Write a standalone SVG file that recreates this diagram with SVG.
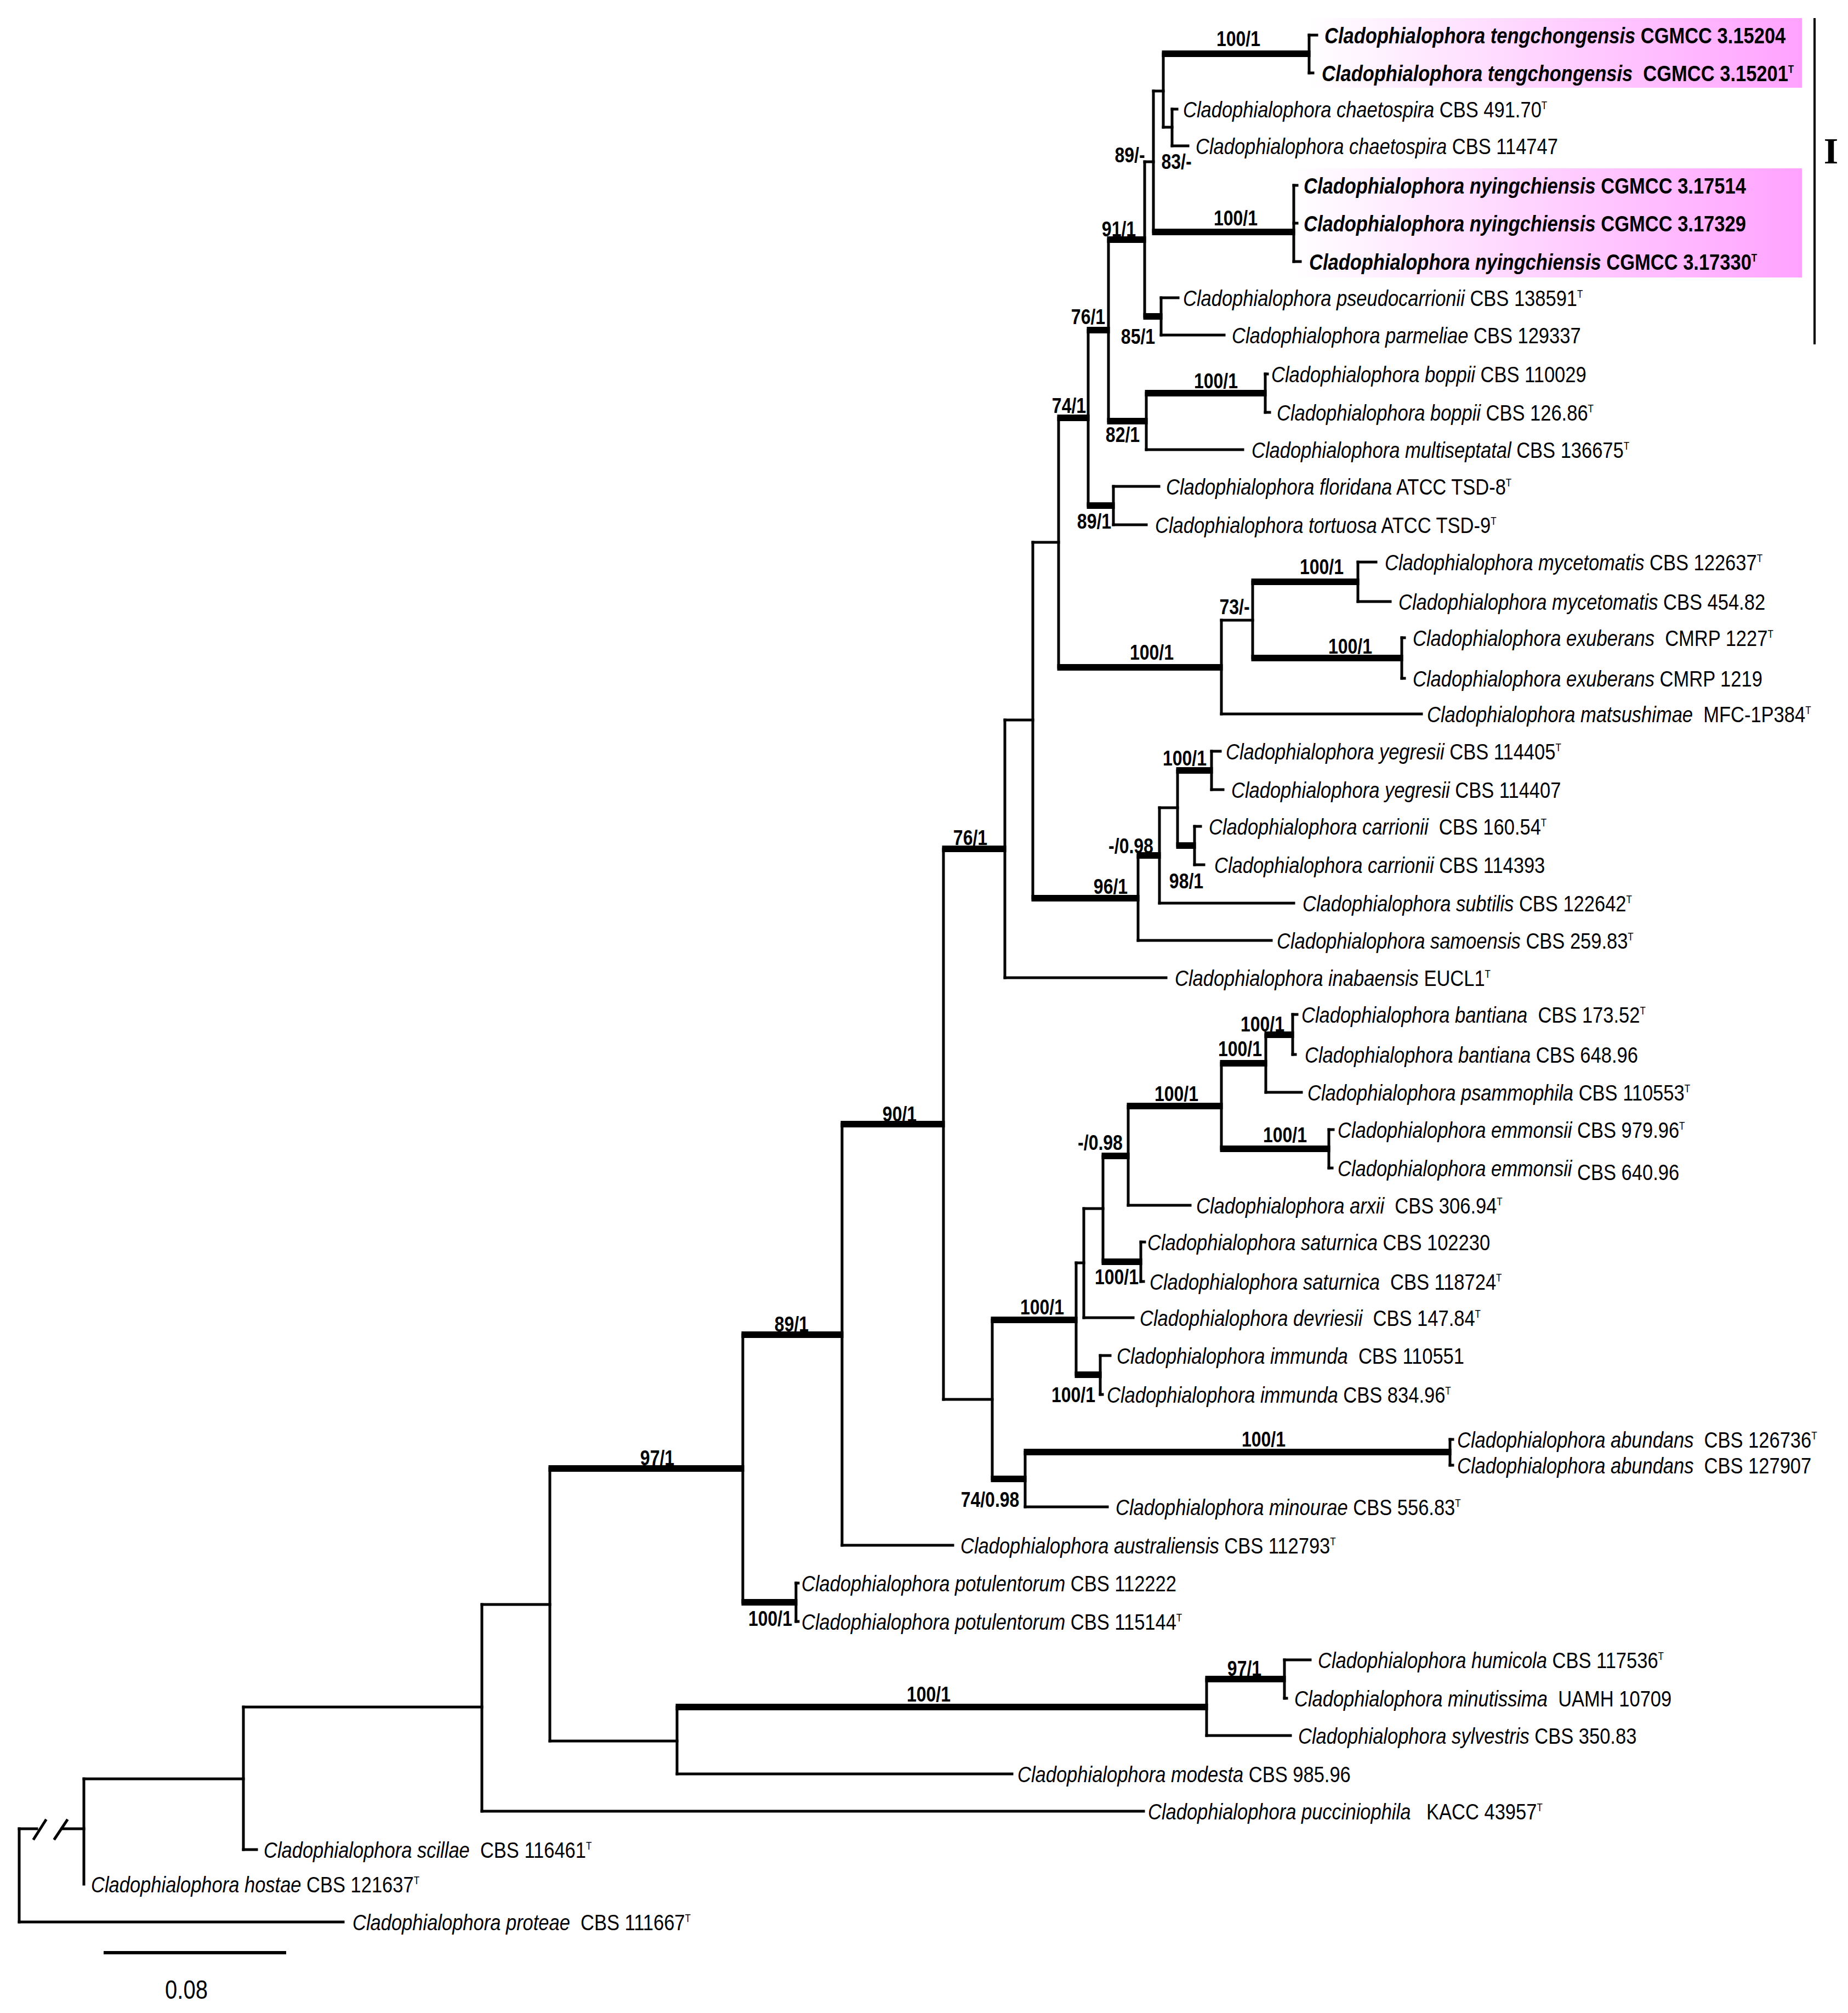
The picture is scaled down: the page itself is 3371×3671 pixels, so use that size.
<svg xmlns="http://www.w3.org/2000/svg" width="3371" height="3671" viewBox="0 0 3371 3671" xml:space="preserve">
<style>
.lf{font-family:"Liberation Sans",Arial,sans-serif;font-size:34.5px;fill:#000;white-space:pre}
.lb{font-weight:bold}
.i{font-style:italic}
.s{font-size:17px}
.bs{font-family:"Liberation Sans",Arial,sans-serif;font-size:32px;font-weight:bold;text-anchor:middle;fill:#000}
.th{fill:none;stroke:#000;stroke-width:5;stroke-linecap:square}
.tk{fill:none;stroke:#000;stroke-width:12;stroke-linecap:butt}
</style>
<defs>
<linearGradient id="pk" x1="0" y1="0" x2="1" y2="0">
<stop offset="0" stop-color="#ffffff"/>
<stop offset="1" stop-color="#ffa2ff"/>
</linearGradient>
</defs>
<rect width="3371" height="3671" fill="#fff"/>
<g id="highlights">
<rect x="2388" y="33" width="899" height="127" fill="url(#pk)"/>
<rect x="2360" y="307" width="927" height="199" fill="url(#pk)"/>
</g>
<g id="connectors">
<path class="th" d="M35 3335V3505 M153 3244V3436 M444 3113V3373 M879 2926V3303 M1003 2678V3175 M1235 3113V3235 M2201 3062V3165 M2343 3027V3097 M1355 2434V2922 M1452 2887V2957 M1536 2050V2818 M1721 1548V2552 M1810 2407V2697 M1870 2648V2748 M2645 2625V2672 M1963 2303V2507 M2007 2472V2543 M1977 2204V2403 M2012 2108V2301 M2081 2265V2337 M2058 2017V2198 M2228 1939V2095 M2309 1887V1992 M2358 1850V1923 M2424 2060V2130 M1833 1313V1783 M1884 989V1638 M2076 1560V1715 M2115 1473V1647 M2148 1405V1542 M2210 1370V1440 M2179 1507V1577 M1931 762V1217 M2228 1131V1302 M2285 1061V1200 M2477 1025V1097 M2557 1163V1237 M1985 602V922 M2031 887V957 M2022 437V768 M2091 717V820 M2308 682V752 M2088 295V577 M2118 543V611 M2104 166V423 M2360 338V477 M2122 98V232 M2388 64V133 M2138 199V266"/>
<path class="th" d="M35 3335H67 M113 3335H153 M35 3505H626 M153 3244H444 M444 3373H468 M444 3113H879 M879 2926H1003 M879 3303H2086 M1003 3175H1235 M1235 3235H1846 M2201 3165H2354 M2343 3027H2390 M1536 2818H1738 M1721 2552H1810 M1870 2748H2020 M1963 2303H1977 M2007 2472H2025 M1977 2204H2012 M1977 2403H2067 M2058 2198H2171 M2309 1992H2374 M2358 1850H2366 M2358 1923H2363 M2424 2060H2432 M2424 2130H2430 M2081 2265H2088 M2081 2337H2086 M1833 1313H1884 M1833 1783H2127 M2076 1715H2319 M2115 1473H2148 M2115 1647H2360 M2210 1370H2226 M2210 1440H2231 M2179 1507H2190 M2179 1577H2196 M1884 989H1931 M2228 1131H2285 M2228 1302H2593 M2477 1025H2510 M2477 1097H2536 M2031 887H2114 M2031 957H2091 M2091 820H2267 M2308 682H2312 M2308 752H2316 M2088 295H2104 M2118 543H2149 M2118 611H2233 M2104 166H2122 M2122 232H2138 M2138 199H2147 M2138 266H2167 M2388 64H2402 M2388 133H2395 M2360 338H2366 M2360 407H2366 M2360 477H2372 M1452 2887H1456 M1452 2957H1456 M2343 3097H2347 M2007 2543H2011 M2645 2625H2650 M2645 2672H2650 M2557 1163H2562 M2557 1237H2562"/>
<path class="th" d="M62 3353L83 3320 M100 3353L122 3320"/>
<path class="tk" d="M1000.5 2678H1357.5 M1352.5 2922H1454.5 M1352.5 2434H1538.5 M1533.5 2050H1723.5 M1718.5 1548H1835.5 M1232.5 3113H2203.5 M2198.5 3062H2345.5 M1807.5 2407H1965.5 M1807.5 2697H1872.5 M1867.5 2648H2647.5 M1960.5 2507H2009.5 M2009.5 2301H2083.5 M2009.5 2108H2060.5 M2055.5 2017H2230.5 M2225.5 1939H2311.5 M2306.5 1887H2360.5 M2225.5 2095H2426.5 M1881.5 1638H2078.5 M2073.5 1560H2117.5 M2145.5 1405H2212.5 M2145.5 1542H2181.5 M1928.5 1217H2230.5 M2282.5 1061H2479.5 M2282.5 1200H2559.5 M1928.5 762H1987.5 M1982.5 922H2033.5 M1982.5 602H2024.5 M2019.5 768H2093.5 M2088.5 717H2310.5 M2019.5 437H2090.5 M2085.5 577H2120.5 M2101.5 423H2362.5 M2119.5 98H2390.5"/>
</g>
<g id="support">
<text class="bs" transform="matrix(1 0 0 1.19 2259 84)">100/1</text>
<text class="bs" transform="matrix(1 0 0 1.19 2061 296)">89/-</text>
<text class="bs" transform="matrix(1 0 0 1.19 2146 308)">83/-</text>
<text class="bs" transform="matrix(1 0 0 1.19 2254 411)">100/1</text>
<text class="bs" transform="matrix(1 0 0 1.19 2041 431)">91/1</text>
<text class="bs" transform="matrix(1 0 0 1.19 1985 591)">76/1</text>
<text class="bs" transform="matrix(1 0 0 1.19 2076 627)">85/1</text>
<text class="bs" transform="matrix(1 0 0 1.19 1950 753)">74/1</text>
<text class="bs" transform="matrix(1 0 0 1.19 2218 708)">100/1</text>
<text class="bs" transform="matrix(1 0 0 1.19 2048 806)">82/1</text>
<text class="bs" transform="matrix(1 0 0 1.19 1996 964)">89/1</text>
<text class="bs" transform="matrix(1 0 0 1.19 2411 1047)">100/1</text>
<text class="bs" transform="matrix(1 0 0 1.19 2252 1120)">73/-</text>
<text class="bs" transform="matrix(1 0 0 1.19 2463 1192)">100/1</text>
<text class="bs" transform="matrix(1 0 0 1.19 2101 1203)">100/1</text>
<text class="bs" transform="matrix(1 0 0 1.19 2161 1396)">100/1</text>
<text class="bs" transform="matrix(1 0 0 1.19 2063 1556)">-/0.98</text>
<text class="bs" transform="matrix(1 0 0 1.19 2164 1620)">98/1</text>
<text class="bs" transform="matrix(1 0 0 1.19 2026 1630)">96/1</text>
<text class="bs" transform="matrix(1 0 0 1.19 1770 1541)">76/1</text>
<text class="bs" transform="matrix(1 0 0 1.19 1641 2045)">90/1</text>
<text class="bs" transform="matrix(1 0 0 1.19 1444 2428)">89/1</text>
<text class="bs" transform="matrix(1 0 0 1.19 1199 2672)">97/1</text>
<text class="bs" transform="matrix(1 0 0 1.19 1901 2397)">100/1</text>
<text class="bs" transform="matrix(1 0 0 1.19 1958 2557)">100/1</text>
<text class="bs" transform="matrix(1 0 0 1.19 1806 2748)">74/0.98</text>
<text class="bs" transform="matrix(1 0 0 1.19 2037 2342)">100/1</text>
<text class="bs" transform="matrix(1 0 0 1.19 2007 2097)">-/0.98</text>
<text class="bs" transform="matrix(1 0 0 1.19 2146 2008)">100/1</text>
<text class="bs" transform="matrix(1 0 0 1.19 2262 1926)">100/1</text>
<text class="bs" transform="matrix(1 0 0 1.19 2303 1881)">100/1</text>
<text class="bs" transform="matrix(1 0 0 1.19 2344 2083)">100/1</text>
<text class="bs" transform="matrix(1 0 0 1.19 2305 2638)">100/1</text>
<text class="bs" transform="matrix(1 0 0 1.19 1405 2965)">100/1</text>
<text class="bs" transform="matrix(1 0 0 1.19 2270 3056)">97/1</text>
<text class="bs" transform="matrix(1 0 0 1.19 1694 3103)">100/1</text>
</g>
<g id="taxa">
<g id="t01"><text class="lf lb" transform="matrix(1 0 0 1.19 2416 78.5)"><tspan class="i">Cladophialophora tengchongensis</tspan> CGMCC 3.15204</text></g>
<g id="t02"><text class="lf lb" transform="matrix(1 0 0 1.19 2411 147.5)"><tspan class="i">Cladophialophora tengchongensis</tspan>  CGMCC 3.15201<tspan class="s" dy="-12">T</tspan></text></g>
<g id="t03"><text class="lf" transform="matrix(1 0 0 1.19 2158 213.5)"><tspan class="i">Cladophialophora chaetospira</tspan> CBS 491.70<tspan class="s" dy="-12">T</tspan></text></g>
<g id="t04"><text class="lf" transform="matrix(1 0 0 1.19 2181 280.5)"><tspan class="i">Cladophialophora chaetospira</tspan> CBS 114747</text></g>
<g id="t05"><text class="lf lb" transform="matrix(1 0 0 1.19 2378 352.5)"><tspan class="i">Cladophialophora nyingchiensis</tspan> CGMCC 3.17514</text></g>
<g id="t06"><text class="lf lb" transform="matrix(1 0 0 1.19 2378 421.5)"><tspan class="i">Cladophialophora nyingchiensis</tspan> CGMCC 3.17329</text></g>
<g id="t07"><text class="lf lb" transform="matrix(1 0 0 1.19 2388 491.5)"><tspan class="i">Cladophialophora nyingchiensis</tspan> CGMCC 3.17330<tspan class="s" dy="-12">T</tspan></text></g>
<g id="t08"><text class="lf" transform="matrix(1 0 0 1.19 2158 557.5)"><tspan class="i">Cladophialophora pseudocarrionii</tspan> CBS 138591<tspan class="s" dy="-12">T</tspan></text></g>
<g id="t09"><text class="lf" transform="matrix(1 0 0 1.19 2247 625.5)"><tspan class="i">Cladophialophora parmeliae</tspan> CBS 129337</text></g>
<g id="t10"><text class="lf" transform="matrix(1 0 0 1.19 2319 696.5)"><tspan class="i">Cladophialophora boppii</tspan> CBS 110029</text></g>
<g id="t11"><text class="lf" transform="matrix(1 0 0 1.19 2329 766.5)"><tspan class="i">Cladophialophora boppii</tspan> CBS 126.86<tspan class="s" dy="-12">T</tspan></text></g>
<g id="t12"><text class="lf" transform="matrix(1 0 0 1.19 2283 834.5)"><tspan class="i">Cladophialophora multiseptatal</tspan> CBS 136675<tspan class="s" dy="-12">T</tspan></text></g>
<g id="t13"><text class="lf" transform="matrix(1 0 0 1.19 2127 901.5)"><tspan class="i">Cladophialophora floridana</tspan> ATCC TSD-8<tspan class="s" dy="-12">T</tspan></text></g>
<g id="t14"><text class="lf" transform="matrix(1 0 0 1.19 2107 971.5)"><tspan class="i">Cladophialophora tortuosa</tspan> ATCC TSD-9<tspan class="s" dy="-12">T</tspan></text></g>
<g id="t15"><text class="lf" transform="matrix(1 0 0 1.19 2526 1039.5)"><tspan class="i">Cladophialophora mycetomatis</tspan> CBS 122637<tspan class="s" dy="-12">T</tspan></text></g>
<g id="t16"><text class="lf" transform="matrix(1 0 0 1.19 2551 1111.5)"><tspan class="i">Cladophialophora mycetomatis</tspan> CBS 454.82</text></g>
<g id="t17"><text class="lf" transform="matrix(1 0 0 1.19 2577 1177.5)"><tspan class="i">Cladophialophora exuberans</tspan>  CMRP 1227<tspan class="s" dy="-12">T</tspan></text></g>
<g id="t18"><text class="lf" transform="matrix(1 0 0 1.19 2577 1251.5)"><tspan class="i">Cladophialophora exuberans</tspan> CMRP 1219</text></g>
<g id="t19"><text class="lf" transform="matrix(1 0 0 1.19 2603 1316.5)"><tspan class="i">Cladophialophora matsushimae</tspan>  MFC-1P384<tspan class="s" dy="-12">T</tspan></text></g>
<g id="t20"><text class="lf" transform="matrix(1 0 0 1.19 2236 1384.5)"><tspan class="i">Cladophialophora yegresii</tspan> CBS 114405<tspan class="s" dy="-12">T</tspan></text></g>
<g id="t21"><text class="lf" transform="matrix(1 0 0 1.19 2246 1454.5)"><tspan class="i">Cladophialophora yegresii</tspan> CBS 114407</text></g>
<g id="t22"><text class="lf" transform="matrix(1 0 0 1.19 2205 1521.5)"><tspan class="i">Cladophialophora carrionii</tspan>  CBS 160.54<tspan class="s" dy="-12">T</tspan></text></g>
<g id="t23"><text class="lf" transform="matrix(1 0 0 1.19 2215 1591.5)"><tspan class="i">Cladophialophora carrionii</tspan> CBS 114393</text></g>
<g id="t24"><text class="lf" transform="matrix(1 0 0 1.19 2376 1661.5)"><tspan class="i">Cladophialophora subtilis</tspan> CBS 122642<tspan class="s" dy="-12">T</tspan></text></g>
<g id="t25"><text class="lf" transform="matrix(1 0 0 1.19 2329 1729.5)"><tspan class="i">Cladophialophora samoensis</tspan> CBS 259.83<tspan class="s" dy="-12">T</tspan></text></g>
<g id="t26"><text class="lf" transform="matrix(1 0 0 1.19 2143 1797.5)"><tspan class="i">Cladophialophora inabaensis</tspan> EUCL1<tspan class="s" dy="-12">T</tspan></text></g>
<g id="t27"><text class="lf" transform="matrix(1 0 0 1.19 2374 1864.5)"><tspan class="i">Cladophialophora bantiana</tspan>  CBS 173.52<tspan class="s" dy="-12">T</tspan></text></g>
<g id="t28"><text class="lf" transform="matrix(1 0 0 1.19 2380 1937.5)"><tspan class="i">Cladophialophora bantiana</tspan> CBS 648.96</text></g>
<g id="t29"><text class="lf" transform="matrix(1 0 0 1.19 2385 2006.5)"><tspan class="i">Cladophialophora psammophila</tspan> CBS 110553<tspan class="s" dy="-12">T</tspan></text></g>
<g id="t30"><text class="lf" transform="matrix(1 0 0 1.19 2440 2074.5)"><tspan class="i">Cladophialophora emmonsii</tspan> CBS 979.96<tspan class="s" dy="-12">T</tspan></text></g>
<g id="t31"><text class="lf" transform="matrix(1 0 0 1.19 2440 2144.5)"><tspan class="i">Cladophialophora emmonsii</tspan><tspan dy="6"> CBS 640.96</tspan></text></g>
<g id="t32"><text class="lf" transform="matrix(1 0 0 1.19 2182 2212.5)"><tspan class="i">Cladophialophora arxii</tspan>  CBS 306.94<tspan class="s" dy="-12">T</tspan></text></g>
<g id="t33"><text class="lf" transform="matrix(1 0 0 1.19 2093 2279.5)"><tspan class="i">Cladophialophora saturnica</tspan> CBS 102230</text></g>
<g id="t34"><text class="lf" transform="matrix(1 0 0 1.19 2097 2351.5)"><tspan class="i">Cladophialophora saturnica</tspan>  CBS 118724<tspan class="s" dy="-12">T</tspan></text></g>
<g id="t35"><text class="lf" transform="matrix(1 0 0 1.19 2079 2417.5)"><tspan class="i">Cladophialophora devriesii</tspan>  CBS 147.84<tspan class="s" dy="-12">T</tspan></text></g>
<g id="t36"><text class="lf" transform="matrix(1 0 0 1.19 2037 2486.5)"><tspan class="i">Cladophialophora immunda</tspan>  CBS 110551</text></g>
<g id="t37"><text class="lf" transform="matrix(1 0 0 1.19 2019 2557.5)"><tspan class="i">Cladophialophora immunda</tspan> CBS 834.96<tspan class="s" dy="-12">T</tspan></text></g>
<g id="t38"><text class="lf" transform="matrix(1 0 0 1.19 2658 2639.5)"><tspan class="i">Cladophialophora abundans</tspan>  CBS 126736<tspan class="s" dy="-12">T</tspan></text></g>
<g id="t39"><text class="lf" transform="matrix(1 0 0 1.19 2658 2686.5)"><tspan class="i">Cladophialophora abundans</tspan>  CBS 127907</text></g>
<g id="t40"><text class="lf" transform="matrix(1 0 0 1.19 2035 2762.5)"><tspan class="i">Cladophialophora minourae</tspan> CBS 556.83<tspan class="s" dy="-12">T</tspan></text></g>
<g id="t41"><text class="lf" transform="matrix(1 0 0 1.19 1752 2832.5)"><tspan class="i">Cladophialophora australiensis</tspan> CBS 112793<tspan class="s" dy="-12">T</tspan></text></g>
<g id="t42"><text class="lf" transform="matrix(1 0 0 1.19 1462 2901.5)"><tspan class="i">Cladophialophora potulentorum</tspan> CBS 112222</text></g>
<g id="t43"><text class="lf" transform="matrix(1 0 0 1.19 1462 2971.5)"><tspan class="i">Cladophialophora potulentorum</tspan> CBS 115144<tspan class="s" dy="-12">T</tspan></text></g>
<g id="t44"><text class="lf" transform="matrix(1 0 0 1.19 2404 3041.5)"><tspan class="i">Cladophialophora humicola</tspan> CBS 117536<tspan class="s" dy="-12">T</tspan></text></g>
<g id="t45"><text class="lf" transform="matrix(1 0 0 1.19 2361 3111.5)"><tspan class="i">Cladophialophora minutissima</tspan>  UAMH 10709</text></g>
<g id="t46"><text class="lf" transform="matrix(1 0 0 1.19 2368 3179.5)"><tspan class="i">Cladophialophora sylvestris</tspan> CBS 350.83</text></g>
<g id="t47"><text class="lf" transform="matrix(1 0 0 1.19 1856 3249.5)"><tspan class="i">Cladophialophora modesta</tspan> CBS 985.96</text></g>
<g id="t48"><text class="lf" transform="matrix(1 0 0 1.19 2094 3317.5)"><tspan class="i">Cladophialophora pucciniophila</tspan>   KACC 43957<tspan class="s" dy="-12">T</tspan></text></g>
<g id="t49"><text class="lf" transform="matrix(1 0 0 1.19 481 3387.5)"><tspan class="i">Cladophialophora scillae</tspan>  CBS 116461<tspan class="s" dy="-12">T</tspan></text></g>
<g id="t50"><text class="lf" transform="matrix(1 0 0 1.19 166 3450.5)"><tspan class="i">Cladophialophora hostae</tspan> CBS 121637<tspan class="s" dy="-12">T</tspan></text></g>
<g id="t51"><text class="lf" transform="matrix(1 0 0 1.19 643 3519.5)"><tspan class="i">Cladophialophora proteae</tspan>  CBS 111667<tspan class="s" dy="-12">T</tspan></text></g>
</g>
<g id="clade-I">
<path d="M3310 33V628" stroke="#000" stroke-width="4" fill="none"/>
<text x="3340" y="298" font-family="'Liberation Serif','Times New Roman',serif" font-size="68" font-weight="bold" text-anchor="middle">I</text>
</g>
<g id="scale">
<path d="M189 3561H522" stroke="#000" stroke-width="6" fill="none"/>
<text transform="matrix(1 0 0 1.19 340 3645)" font-family="'Liberation Sans',Arial,sans-serif" font-size="40" text-anchor="middle">0.08</text>
</g>
</svg>
